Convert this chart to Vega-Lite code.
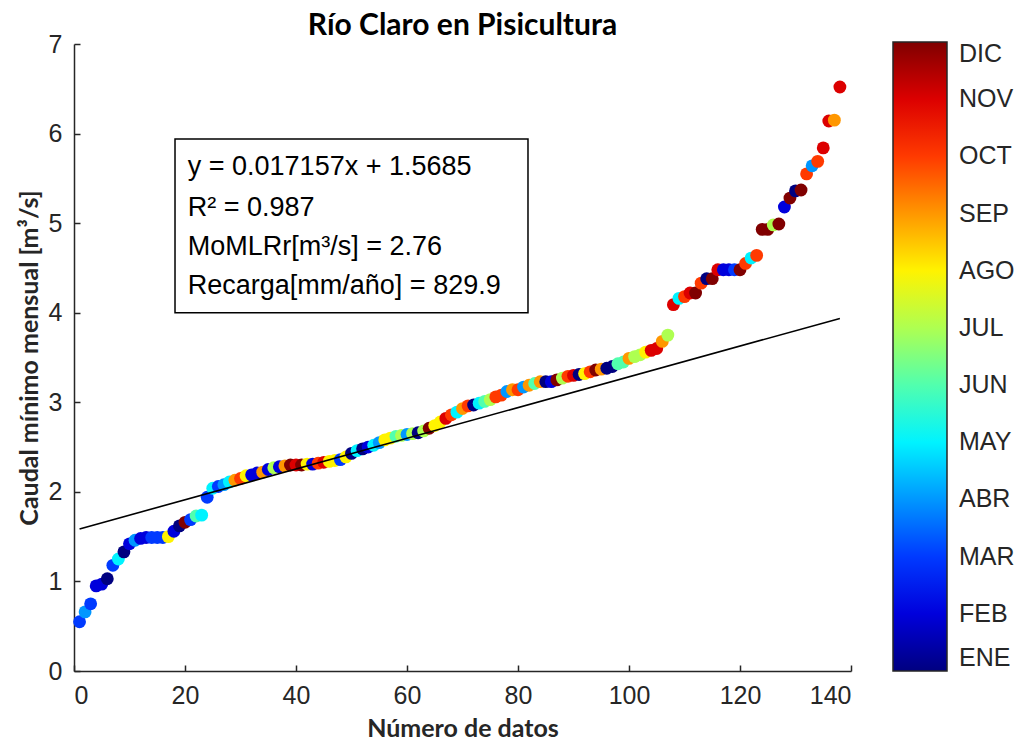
{
  "$schema": "https://vega.github.io/schema/vega-lite/v6.json",
  "autosize": {"type": "none"},
  "width": 777,
  "height": 627,
  "padding": {"left": 74, "top": 44, "right": 170, "bottom": 71},
  "background": "white",
  "title": {"text": "Río Claro en Pisicultura", "font": "Lato", "fontSize": 30, "fontWeight": "bold", "color": "#000000", "anchor": "middle", "frame": "group", "offset": -9},
  "config": {
    "view": {"stroke": null},
    "axis": {
      "domainColor": "#262626", "domainWidth": 1.5, "tickColor": "#262626", "tickWidth": 1.5,
      "tickSize": -6, "grid": false, "format": "d",
      "labelFont": "Liberation Sans", "labelFontSize": 25, "labelColor": "#262626",
      "titleFont": "Lato", "titleFontSize": 25, "titleFontWeight": "bold", "titleColor": "#262626"
    }
  },
  "datasets": {
    "pts": [
      {"n":1,"q":0.55,"mes":3},{"n":2,"q":0.66,"mes":4},{"n":3,"q":0.75,"mes":3},{"n":4,"q":0.95,"mes":2},{"n":5,"q":0.97,"mes":2},
      {"n":6,"q":1.03,"mes":1},{"n":7,"q":1.18,"mes":3},{"n":8,"q":1.25,"mes":5},{"n":9,"q":1.33,"mes":1},{"n":10,"q":1.42,"mes":2},
      {"n":11,"q":1.46,"mes":4},{"n":12,"q":1.48,"mes":2},{"n":13,"q":1.49,"mes":2},{"n":14,"q":1.49,"mes":3},{"n":15,"q":1.49,"mes":3},
      {"n":16,"q":1.49,"mes":3},{"n":17,"q":1.50,"mes":8},{"n":18,"q":1.56,"mes":2},{"n":19,"q":1.62,"mes":1},{"n":20,"q":1.66,"mes":12},
      {"n":21,"q":1.69,"mes":3},{"n":22,"q":1.73,"mes":6},{"n":23,"q":1.74,"mes":5},{"n":24,"q":1.94,"mes":3},{"n":25,"q":2.04,"mes":5},
      {"n":26,"q":2.06,"mes":3},{"n":27,"q":2.08,"mes":4},{"n":28,"q":2.11,"mes":5},{"n":29,"q":2.13,"mes":9},{"n":30,"q":2.15,"mes":10},
      {"n":31,"q":2.18,"mes":8},{"n":32,"q":2.19,"mes":2},{"n":33,"q":2.21,"mes":2},{"n":34,"q":2.22,"mes":9},{"n":35,"q":2.25,"mes":2},
      {"n":36,"q":2.27,"mes":7},{"n":37,"q":2.28,"mes":2},{"n":38,"q":2.29,"mes":9},{"n":39,"q":2.30,"mes":12},{"n":40,"q":2.30,"mes":11},
      {"n":41,"q":2.30,"mes":12},{"n":42,"q":2.31,"mes":8},{"n":43,"q":2.31,"mes":2},{"n":44,"q":2.32,"mes":10},{"n":45,"q":2.33,"mes":11},
      {"n":46,"q":2.34,"mes":8},{"n":47,"q":2.35,"mes":8},{"n":48,"q":2.36,"mes":3},{"n":49,"q":2.39,"mes":8},{"n":50,"q":2.43,"mes":1},
      {"n":51,"q":2.46,"mes":5},{"n":52,"q":2.48,"mes":1},{"n":53,"q":2.50,"mes":2},{"n":54,"q":2.52,"mes":5},{"n":55,"q":2.55,"mes":4},
      {"n":56,"q":2.58,"mes":8},{"n":57,"q":2.60,"mes":8},{"n":58,"q":2.62,"mes":6},{"n":59,"q":2.63,"mes":7},{"n":60,"q":2.64,"mes":4},
      {"n":61,"q":2.65,"mes":7},{"n":62,"q":2.66,"mes":1},{"n":63,"q":2.68,"mes":7},{"n":64,"q":2.71,"mes":12},{"n":65,"q":2.74,"mes":8},
      {"n":66,"q":2.78,"mes":8},{"n":67,"q":2.82,"mes":11},{"n":68,"q":2.86,"mes":10},{"n":69,"q":2.89,"mes":5},{"n":70,"q":2.93,"mes":9},
      {"n":71,"q":2.96,"mes":10},{"n":72,"q":2.97,"mes":1},{"n":73,"q":2.99,"mes":5},{"n":74,"q":3.01,"mes":6},{"n":75,"q":3.03,"mes":7},
      {"n":76,"q":3.06,"mes":10},{"n":77,"q":3.08,"mes":10},{"n":78,"q":3.12,"mes":4},{"n":79,"q":3.14,"mes":9},{"n":80,"q":3.14,"mes":10},
      {"n":81,"q":3.17,"mes":4},{"n":82,"q":3.19,"mes":9},{"n":83,"q":3.21,"mes":6},{"n":84,"q":3.23,"mes":9},{"n":85,"q":3.23,"mes":1},
      {"n":86,"q":3.23,"mes":2},{"n":87,"q":3.25,"mes":12},{"n":88,"q":3.27,"mes":7},{"n":89,"q":3.29,"mes":10},{"n":90,"q":3.30,"mes":11},
      {"n":91,"q":3.31,"mes":1},{"n":92,"q":3.32,"mes":8},{"n":93,"q":3.34,"mes":10},{"n":94,"q":3.36,"mes":12},{"n":95,"q":3.37,"mes":9},
      {"n":96,"q":3.38,"mes":1},{"n":97,"q":3.40,"mes":1},{"n":98,"q":3.43,"mes":6},{"n":99,"q":3.45,"mes":6},{"n":100,"q":3.49,"mes":9},
      {"n":101,"q":3.51,"mes":7},{"n":102,"q":3.53,"mes":7},{"n":103,"q":3.56,"mes":8},{"n":104,"q":3.58,"mes":11},{"n":105,"q":3.60,"mes":11},
      {"n":106,"q":3.68,"mes":9},{"n":107,"q":3.75,"mes":7},{"n":108,"q":4.09,"mes":11},{"n":109,"q":4.16,"mes":5},{"n":110,"q":4.18,"mes":10},
      {"n":111,"q":4.22,"mes":11},{"n":112,"q":4.22,"mes":12},{"n":113,"q":4.33,"mes":10},{"n":114,"q":4.38,"mes":1},{"n":115,"q":4.38,"mes":12},
      {"n":116,"q":4.48,"mes":11},{"n":117,"q":4.48,"mes":2},{"n":118,"q":4.48,"mes":2},{"n":119,"q":4.48,"mes":3},{"n":120,"q":4.48,"mes":12},
      {"n":121,"q":4.55,"mes":10},{"n":122,"q":4.61,"mes":5},{"n":123,"q":4.64,"mes":10},{"n":124,"q":4.93,"mes":12},{"n":125,"q":4.93,"mes":12},
      {"n":126,"q":4.98,"mes":7},{"n":127,"q":4.99,"mes":12},{"n":128,"q":5.18,"mes":2},{"n":129,"q":5.28,"mes":12},{"n":130,"q":5.36,"mes":1},
      {"n":131,"q":5.37,"mes":12},{"n":132,"q":5.55,"mes":10},{"n":133,"q":5.64,"mes":4},{"n":134,"q":5.69,"mes":10},{"n":135,"q":5.84,"mes":11},
      {"n":136,"q":6.14,"mes":11},{"n":137,"q":6.15,"mes":9},{"n":138,"q":6.52,"mes":11}
    ],
    "fit": [{"n":1,"q":1.585657},{"n":138,"q":3.936166}],
    "box": [{"x1":18.2,"x2":81.8,"y1":5.94,"y2":4.0}],
    "txt": [
      {"x":20.5,"y":5.627,"t":"y = 0.017157x + 1.5685"},
      {"x":20.5,"y":5.169,"t":"R² = 0.987"},
      {"x":20.5,"y":4.734,"t":"MoMLRr[m³/s] = 2.76"},
      {"x":20.5,"y":4.298,"t":"Recarga[mm/año] = 829.9"}
    ]
  },
  "layer": [
    {
      "data": {"name": "pts"},
      "mark": {"type": "circle", "size": 165, "opacity": 1},
      "encoding": {
        "x": {"field": "n", "type": "quantitative", "scale": {"domain": [0, 140], "nice": false},
              "axis": {"title": "Número de datos", "values": [0,20,40,60,80,100,120,140], "labelPadding": 18, "titlePadding": 8}},
        "y": {"field": "q", "type": "quantitative", "scale": {"domain": [0, 7], "nice": false},
              "axis": {"title": "Caudal mínimo mensual [m³/s]", "values": [0,1,2,3,4,5,6,7], "labelPadding": 18, "titlePadding": 6}},
        "color": {"field": "mes", "type": "quantitative",
          "scale": {"domain": [1, 12], "range": ["#000080","#0000ff","#0080ff","#00ffff","#80ff80","#ffff00","#ff8000","#ff0000","#800000"], "interpolate": "rgb"},
          "legend": {
            "title": null, "orient": "none", "legendX": 819, "legendY": -2, "direction": "vertical",
            "gradientLength": 629, "gradientThickness": 54, "gradientStrokeColor": "#262626", "gradientStrokeWidth": 1.5,
            "values": [1,2,3,4,5,6,7,8,9,10,11,12],
            "labelExpr": "['ENE','FEB','MAR','ABR','MAY','JUN','JUL','AGO','SEP','OCT','NOV','DIC'][datum.value - 1]",
            "labelFont": "Liberation Sans", "labelFontSize": 25, "labelColor": "#262626", "labelOffset": 12, "labelOverlap": false,
            "padding": 0, "offset": 0,
            "encode": {"labels": {"update": {"baseline": {"value": "middle"}}}}
          }
        }
      }
    },
    {
      "data": {"name": "fit"},
      "mark": {"type": "line", "color": "#000000", "strokeWidth": 1.6},
      "encoding": {"x": {"field": "n", "type": "quantitative"}, "y": {"field": "q", "type": "quantitative"}}
    },
    {
      "data": {"name": "box"},
      "mark": {"type": "rect", "fill": "white", "stroke": "#000000", "strokeWidth": 1.5},
      "encoding": {
        "x": {"field": "x1", "type": "quantitative"}, "x2": {"field": "x2"},
        "y": {"field": "y1", "type": "quantitative"}, "y2": {"field": "y2"}
      }
    },
    {
      "data": {"name": "txt"},
      "mark": {"type": "text", "align": "left", "baseline": "middle", "font": "Liberation Sans", "fontSize": 27, "color": "#000000"},
      "encoding": {
        "x": {"field": "x", "type": "quantitative"},
        "y": {"field": "y", "type": "quantitative"},
        "text": {"field": "t"}
      }
    }
  ]
}
